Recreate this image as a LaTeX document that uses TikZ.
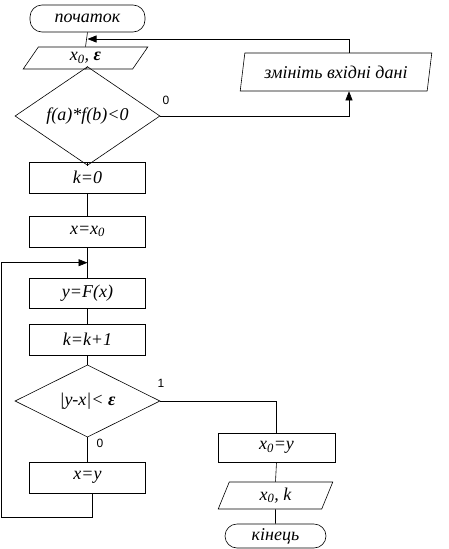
\documentclass[tikz,border=0pt]{standalone}
\usepackage{fontspec}
\setmainfont{Liberation Serif}
\newfontfamily\lblfont{Liberation Sans}
\usetikzlibrary{shapes.geometric,arrows.meta,calc}
\begin{document}
\begin{tikzpicture}[x=1pt,y=-1pt,
  every node/.style={font=\fontsize{18}{20}\selectfont\itshape, inner sep=0pt, line width=0.6pt},
  procbox/.style={draw, rectangle, minimum width=116pt, minimum height=31pt},
  termbox/.style={draw, rectangle, rounded corners=12pt},
  iobox/.style={draw, trapezium, trapezium stretches=true},
  decbox/.style={draw, diamond, minimum width=145pt, minimum height=62pt},
  conn/.style={line width=0.6pt},
  arr/.style={conn, -{Triangle[length=9pt,width=7pt]}},
  lbl/.style={font=\lblfont\fontsize{12}{14}\selectfont}
]
\useasboundingbox[fill=white] (0,0) rectangle (448,549);

\node[termbox, minimum width=115pt, minimum height=27pt] (start) at (87.5,18.5) {початок};
\node[iobox, trapezium left angle=66, trapezium right angle=114, minimum width=125pt, minimum height=22pt] (in1) at (85.5,58) {x\textsubscript{0}, \textbf{ε}};
\node[decbox] (d1) at (87.5,116) {f(a)*f(b)<0};
\node[iobox, trapezium left angle=74, trapezium right angle=106, minimum width=192pt, minimum height=38pt] (chg) at (336,72) {змініть вхідні дані};
\node[procbox] (k0) at (87.5,177.5) {k=0};
\node[procbox] (xx0) at (87.5,231.5) {x=x\textsubscript{0}};
\node[procbox, minimum height=30pt] (yF) at (87.5,293) {y=F(x)};
\node[procbox] (kk1) at (87.5,339.5) {k=k+1};
\node[decbox] (d2) at (87.5,401) {|y-x|< \textbf{ε}};
\node[procbox] (xy) at (87.5,477.5) {x=y};
\node[procbox, minimum width=117pt, minimum height=29pt] (x0y) at (276.5,447.5) {x\textsubscript{0}=y};
\node[iobox, trapezium left angle=76, trapezium right angle=104, minimum width=115pt, minimum height=27pt] (out) at (275.5,495.5) {x\textsubscript{0}, k};
\node[termbox, minimum width=101pt, minimum height=24pt] (fin) at (275.5,536) {кінець};

\coordinate (j1) at (87.5,39);
\coordinate (r1) at (349,39);
\coordinate (r2) at (349,116);
\coordinate (j2) at (87.5,262.7);
\coordinate (lb1) at (92,517);
\coordinate (lb2) at (1,517);
\coordinate (lb3) at (1,262.7);

\draw[conn] (start.south) -- (in1.north);
\draw[conn] (in1.south) -- (d1.north);
\draw[conn] (d1.south) -- (k0.north);
\draw[conn] (k0.south) -- (xx0.north);
\draw[conn] (xx0.south) -- (yF.north);
\draw[conn] (yF.south) -- (kk1.north);
\draw[conn] (kk1.south) -- (d2.north);
\draw[conn] (d2.south) -- (xy.north);
\draw[conn] (d2.east) -| (x0y.north);
\draw[conn] (x0y.south) -- (out.north);
\draw[conn] (out.south) -- (fin.north);
\draw[arr] (d1.east) -- (r2) -- (r2 |- chg.south);
\draw[arr] (r1 |- chg.north) -- (r1) -- (j1);
\draw[arr] (xy.south -| lb1) -- (lb1) -- (lb2) -- (lb3) -- (j2);

\node[lbl] (l0a) at (166,100) {0};
\node[lbl] (l1) at (161,383) {1};
\node[lbl] (l0b) at (100,443) {0};
\end{tikzpicture}
\end{document}
